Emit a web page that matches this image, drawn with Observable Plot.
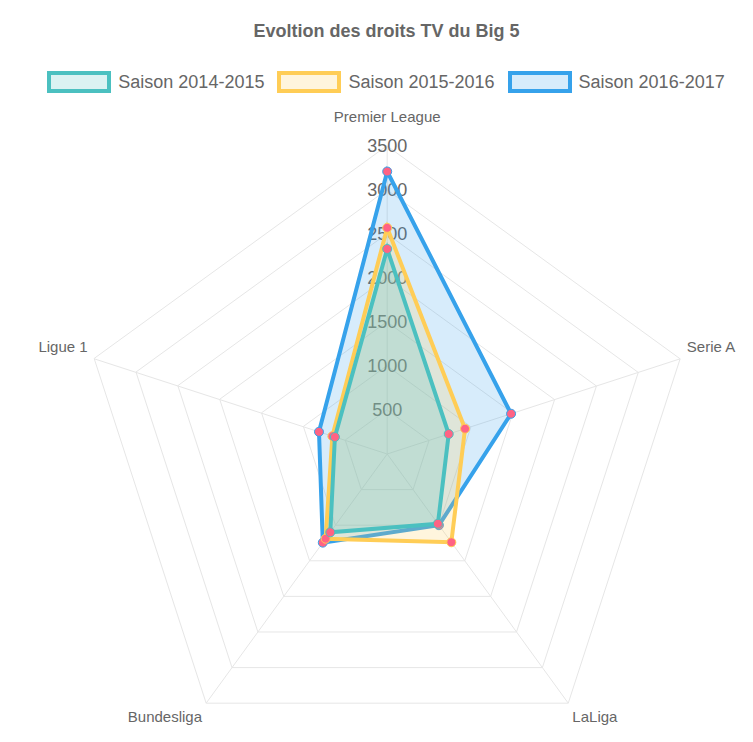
<!DOCTYPE html>
<html>
<head>
<meta charset="utf-8">
<script src="https://cdn.jsdelivr.net/npm/d3@7"></script>
<script src="https://cdn.jsdelivr.net/npm/@observablehq/plot@0.6"></script>
<style>
  body { margin: 0; background: #fff; overflow: hidden; font-family: "Liberation Sans", Arial, sans-serif; color: #666; }
  #title { height: 62px; line-height: 62px; text-align: center; font-weight: bold; font-size: 18px; padding-left: 20px; }
  #legend { height: 40px; display: flex; justify-content: center; align-items: center; gap: 13px; font-size: 18px; padding-left: 19px; }
  .item { display: flex; align-items: center; }
  .box { width: 64px; height: 22px; box-sizing: border-box; border: 4px solid; margin-right: 7px; }
</style>
</head>
<body>
<div id="title">Evoltion des droits TV du Big 5</div>
<div id="legend"></div>
<div id="chart"></div>
<script>
const leagues = ["Premier League", "Serie A", "LaLiga", "Bundesliga", "Ligue 1"];
const seasons = ["Saison 2014-2015", "Saison 2015-2016", "Saison 2016-2017"];
const s1415 = [2330, 735, 980, 1100, 625];
const s1516 = [2570, 930, 1240, 1190, 655];
const s1617 = [3210, 1480, 1000, 1245, 815];
const ticks = [500, 1000, 1500, 2000, 2500, 3000, 3500];
const colors = ["rgb(75,192,192)", "rgb(255,205,86)", "rgb(54,162,235)"];

// legend (html, above the svg)
const legend = d3.select("#legend");
seasons.forEach((s, k) => {
  const item = legend.append("div").attr("class", "item");
  item.append("div").attr("class", "box")
    .style("border-color", colors[k])
    .style("background", colors[k].replace("rgb", "rgba").replace(")", ",0.2)"));
  item.append("span").text(s);
});

const W = 753, H = 640,
  cx = 386.7, cy = 351.5, R = 308,
  max = 3500, u = max / R;

const angle = (i) => (i * 2 * Math.PI) / leagues.length;
const pt = (v, i) => ({ x: v * Math.sin(angle(i)), y: v * Math.cos(angle(i)) });

const rings = ticks.flatMap((t) => leagues.map((l, i) => ({ t, ...pt(t, i) })));
const spokes = leagues.map((l, i) => ({ l, ...pt(max, i) }));

// point label positions (px offsets turned into data units)
const labels = leagues.map((l, i) => {
  const s = Math.sin(angle(i)), c = Math.cos(angle(i));
  const up = c > 0.99 ? 22 : c > 0 ? 9 : -8;
  return {
    l,
    x: 315 * s * u,
    y: (315 * c + up) * u,
    anchor: Math.abs(s) < 0.1 ? "middle" : s > 0 ? "start" : "end",
  };
});

const series = [s1415, s1516, s1617].map((vals, k) => ({
  name: seasons[k],
  color: colors[k],
  pts: vals.map((v, i) => ({ league: leagues[i], value: v, ...pt(v, i) })),
}));

const labelMark = (a) =>
  Plot.text(labels, {
    filter: (d) => d.anchor === a,
    x: "x", y: "y", text: "l",
    textAnchor: a, fontSize: 15, fill: "#666",
  });

const options = {
  width: W,
  height: H,
  style: { fontFamily: "'Liberation Sans', Arial, sans-serif", background: "white", overflow: "visible" },
  x: { axis: null, domain: [-max, max], range: [cx - R, cx + R] },
  y: { axis: null, domain: [-max, max], range: [cy + R, cy - R] },
  marks: [
    Plot.line(rings, { x: "x", y: "y", z: "t", curve: "linear-closed", stroke: "#e6e6e6", strokeWidth: 1 }),
    Plot.link(spokes, { x1: 0, y1: 0, x2: "x", y2: "y", stroke: "#e6e6e6", strokeWidth: 1 }),
    Plot.text(ticks, { x: 0, y: (d) => d, text: (d) => String(d), fontSize: 18, fill: "#666" }),
    labelMark("middle"),
    labelMark("start"),
    labelMark("end"),
    // chart.js draws the first dataset on top
    ...series.slice().reverse().flatMap((s) => [
      Plot.line(s.pts, {
        x: "x", y: "y", curve: "linear-closed",
        stroke: s.color, strokeWidth: 4,
        fill: s.color, fillOpacity: 0.2,
        strokeLinejoin: "miter", strokeMiterlimit: 10,
      }),
      Plot.dot(s.pts, { x: "x", y: "y", r: 4.5, fill: "#ff6384", stroke: s.color, strokeWidth: 1 }),
    ]),
  ],
};

document.getElementById("chart").append(Plot.plot(options));
</script>
</body>
</html>
